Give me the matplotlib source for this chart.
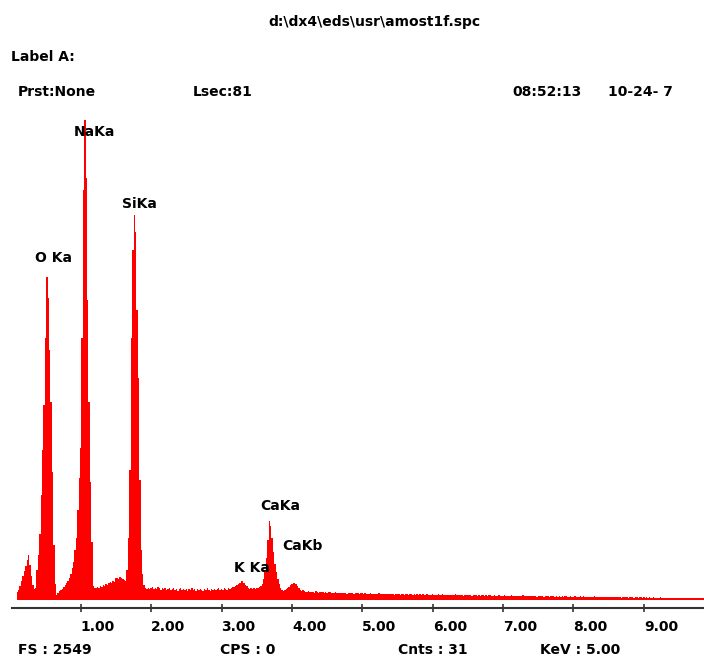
"""EDS spectrum amost1f.spc - recreated with matplotlib"""

import matplotlib
matplotlib.use("Agg")
import matplotlib.pyplot as plt
import numpy as np

# channel start / width in keV
E0 = 0.10
DE = 0.02

# counts per channel, 0.10 .. 1.94 keV
counts_low = [
    40, 50, 70, 95, 120, 145, 170, 200, 225, 175,
    120, 75, 55, 60, 150, 225, 330, 525, 750, 975,
    1310, 1615, 1510, 1250, 990, 640, 275, 80, 25, 35,
    45, 50, 55, 65, 75, 85, 95, 110, 130, 160,
    190, 250, 310, 450, 610, 760, 1310, 2050, 2400, 2110,
    1500, 990, 590, 290, 70, 60, 62, 65, 58, 70,
    65, 76, 68, 80, 74, 86, 90, 84, 96, 90,
    110, 108, 104, 116, 110, 105, 100, 95, 150, 310,
    650, 1310, 1750, 1925, 1840, 1450, 1110, 600, 250, 130,
    75, 60, 55,
]
# 1.96 .. 4.18 keV (K Ka, CaKa, CaKb)
counts_mid = [
    60, 55, 62, 66, 54, 60, 56, 65, 60, 50,
    61, 55, 60, 50, 56, 62, 51, 55, 60, 49,
    55, 46, 56, 60, 50, 55, 51, 56, 45, 54,
    50, 61, 49, 55, 46, 56, 50, 55, 50, 45,
    56, 50, 60, 51, 45, 55, 50, 56, 49, 55,
    60, 50, 56, 49, 61, 55, 50, 60, 55, 61,
    65, 66, 70, 76, 80, 86, 95, 96, 85, 75,
    70, 60, 55, 61, 55, 60, 56, 60, 61, 65,
    70, 80, 105, 150, 210, 300, 395, 370, 310, 240,
    180, 140, 105, 80, 60, 50, 45, 50, 55, 60,
    65, 75, 80, 85, 86, 80, 70, 60, 50, 45,
    50, 44,
]
# 4.20 .. 9.84 keV background tail
counts_tail = [
    42, 39, 44, 38, 41, 40, 37, 43, 39, 36, 40, 38, 42, 37, 39, 36, 38, 41, 36, 37,
    35, 38, 34, 36, 33, 37, 35, 34, 36, 32, 35, 33, 37, 34, 32, 35, 33, 36, 31, 34,
    33, 30, 34, 31, 32, 29, 33, 31, 30, 32, 29, 31, 34, 30, 29, 31, 30, 28, 32, 29,
    30, 28, 31, 27, 29, 30, 28, 26, 29, 31, 27, 28, 30, 26, 28, 29, 27, 30, 26, 28,
    27, 29, 26, 28, 25, 27, 30, 26, 27, 25, 28, 26, 24, 27, 29, 25, 26, 28, 24, 26,
    25, 26, 24, 27, 23, 25, 28, 24, 26, 23, 25, 24, 22, 26, 27, 23, 24, 25, 22, 24,
    23, 25, 21, 24, 22, 23, 26, 22, 23, 21, 24, 23, 20, 22, 25, 21, 22, 24, 21, 22,
    21, 23, 20, 22, 19, 21, 24, 20, 22, 19, 21, 20, 18, 21, 23, 19, 20, 22, 18, 20,
    20, 18, 21, 19, 17, 20, 22, 18, 19, 17, 20, 18, 21, 17, 19, 22, 18, 17, 19, 16,
    18, 17, 19, 16, 18, 20, 17, 16, 18, 15, 17, 19, 16, 15, 17, 18, 16, 19, 15, 16,
    16, 15, 17, 14, 16, 18, 15, 14, 16, 13, 15, 17, 14, 13, 15, 16, 14, 17, 13, 14,
    15, 13, 16, 14, 12, 15, 13, 14, 16, 12, 14, 13, 15, 12, 13, 14, 12, 15, 13, 12,
    13, 12, 14, 11, 13, 12, 11, 13, 12, 10, 12, 11, 13, 10, 11, 12, 10, 11, 12, 10,
    11, 10, 12, 10, 11, 9, 10, 11, 10, 9, 11, 10, 9, 10, 11, 9, 10, 11, 10, 9,
    10, 11, 10,
]

peak_names = ["O Ka", "NaKa", "SiKa", "K Ka", "CaKa", "CaKb"]
peak_label_kev = [0.62, 1.20, 1.84, 3.43, 3.83, 4.15]
peak_label_cnt = [1708, 2338, 1980, 158, 468, 268]

tick_kev = [1, 2, 3, 4, 5, 6, 7, 8, 9]
tick_labels = ["1.00", "2.00", "3.00", "4.00", "5.00", "6.00", "7.00", "8.00", "9.00"]

title = "d:\\dx4\\eds\\usr\\amost1f.spc"
header = [("Prst:None", 18), ("Lsec:81", 193), ("08:52:13", 512), ("10-24- 7", 608)]
footer = [("FS : 2549", 18), ("CPS : 0", 220), ("Cnts : 31", 398), ("KeV : 5.00", 540)]
FS = 2549

W, H = 704, 659
FONT = dict(family="DejaVu Sans", weight="bold", fontsize=10, color="black")


def fx(px):
    return px / W


def fy(py):
    return 1 - py / H


def main() -> None:
    counts = np.array(counts_low + counts_mid + counts_tail, dtype=float)
    # channel edges around each channel centre
    edges = E0 - DE / 2 + DE * np.arange(len(counts) + 1)

    fig = plt.figure(figsize=(W / 100, H / 100), dpi=100)
    fig.patch.set_facecolor("white")
    ax = fig.add_axes([fx(12), fy(607.7), fx(692), (607.7 - 90.2) / H])
    ax.stairs(counts, edges, baseline=0, fill=True, color="#ff0000",
              lw=0, antialiased=False)
    ax.set_xlim(0.024, 9.854)
    ax.set_ylim(-38.5, FS)

    for s in ("top", "left", "right"):
        ax.spines[s].set_visible(False)
    ax.spines["bottom"].set_color("#333333")
    ax.spines["bottom"].set_linewidth(1.5)
    ax.set_yticks([])
    ax.set_xticks(tick_kev)
    ax.set_xticklabels(tick_labels, ha="left", fontdict=FONT)
    ax.tick_params(axis="x", direction="inout", length=6, width=1.2,
                   color="#333333", pad=6)

    for name, e, c in zip(peak_names, peak_label_kev, peak_label_cnt):
        ax.text(e, c, name, ha="center", va="center", **FONT)

    fig.text(fx(374), fy(22), title, ha="center", va="center", **FONT)
    fig.text(fx(11), fy(57), "Label A:", ha="left", va="center", **FONT)
    for s, x in header:
        fig.text(fx(x), fy(92), s, ha="left", va="center", **FONT)
    for s, x in footer:
        fig.text(fx(x), fy(650), s, ha="left", va="center", **FONT)

    fig.savefig("out.png", dpi=100, facecolor="white")
    plt.close(fig)


if __name__ == "__main__":
    main()
